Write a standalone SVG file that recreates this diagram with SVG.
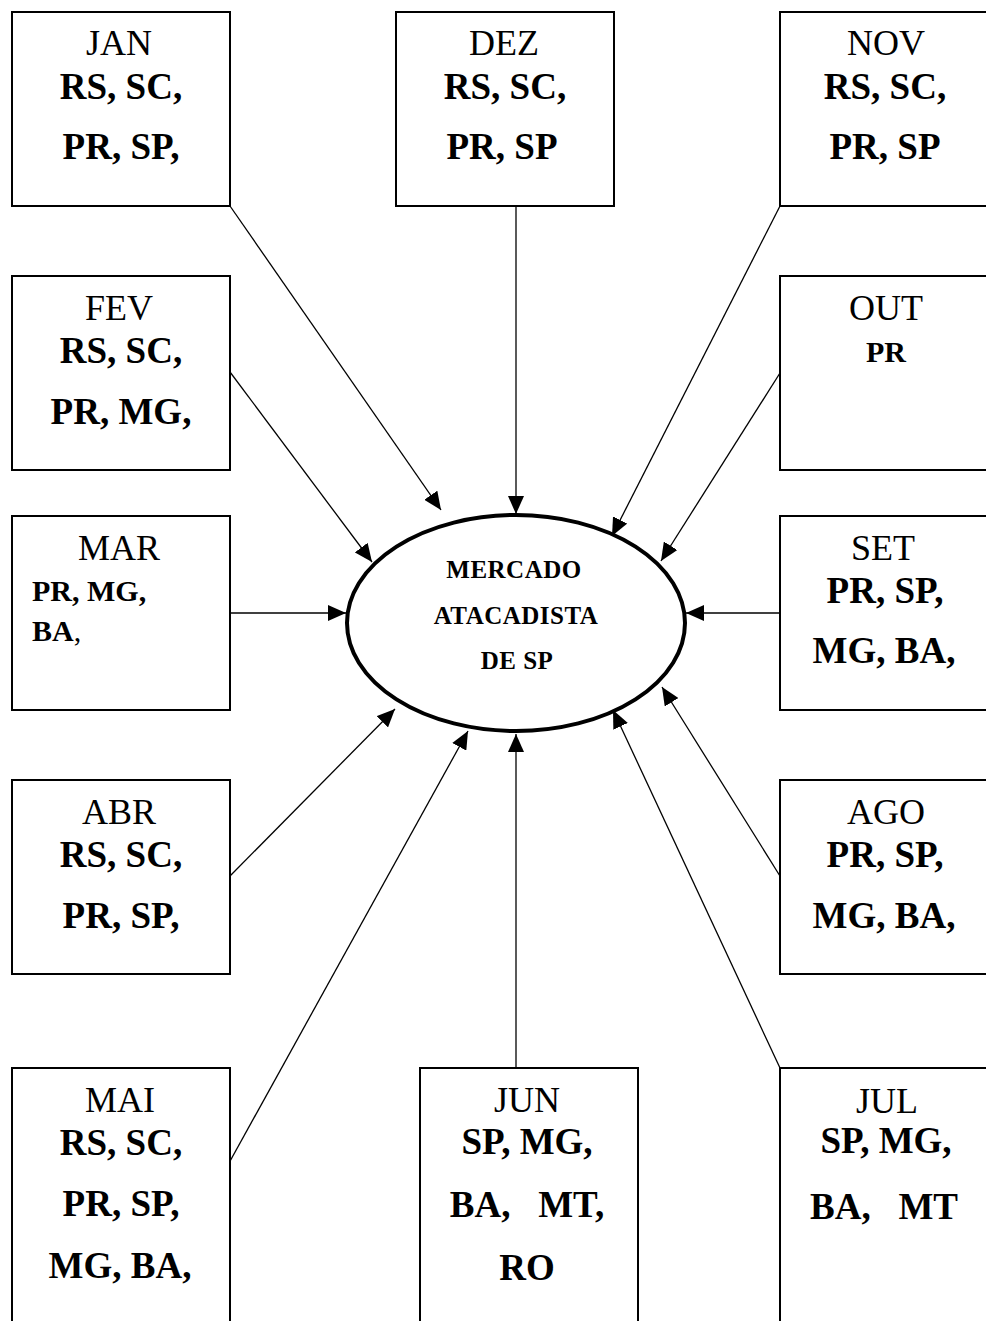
<svg xmlns="http://www.w3.org/2000/svg" width="986" height="1321" viewBox="0 0 986 1321">
  <style>
    .box { fill: #fff; stroke: #000; stroke-width: 2; }
    .hub { fill: #fff; stroke: #000; stroke-width: 4; }
    text { font-family: "Liberation Serif", "Times New Roman", serif; fill: #000; text-anchor: middle; }
    .m { font-size: 36px; }
    .b { font-size: 37px; font-weight: bold; white-space: pre; }
    .s { font-size: 30px; font-weight: bold; text-anchor: start; }
    .c { font-size: 25px; font-weight: bold; letter-spacing: 0.5px; }
    .r { font-weight: normal; }
    #connectors line { stroke: #000; stroke-width: 1.3; marker-end: url(#ah); }
  </style>
  <defs>
    <marker id="ah" viewBox="0 0 18 16" refX="18" refY="8" markerWidth="18" markerHeight="16" markerUnits="userSpaceOnUse" orient="auto">
      <path d="M0,0 L18,8 L0,16 Z" fill="#000"/>
    </marker>
  </defs>
  <rect width="986" height="1321" fill="#fff"/>

  <!-- supply lines into the wholesale market -->
  <g id="connectors">
    <line x1="230" y1="206" x2="441" y2="510"/>
    <line x1="516" y1="206" x2="516" y2="514"/>
    <line x1="780" y1="206" x2="612" y2="536"/>
    <line x1="780" y1="373" x2="661" y2="561"/>
    <line x1="780" y1="613" x2="686" y2="613"/>
    <line x1="780" y1="876" x2="662" y2="687"/>
    <line x1="780" y1="1068" x2="613" y2="710"/>
    <line x1="516" y1="1068" x2="516" y2="734"/>
    <line x1="229" y1="1163" x2="468" y2="731"/>
    <line x1="230" y1="876" x2="395" y2="709"/>
    <line x1="230" y1="613" x2="346" y2="613"/>
    <line x1="230" y1="372" x2="372" y2="562"/>
  </g>

  <g id="mercado">
    <ellipse class="hub" cx="516" cy="623" rx="169" ry="108"/>
    <text class="c" x="514" y="578">MERCADO</text>
    <text class="c" x="516" y="624">ATACADISTA</text>
    <text class="c" x="517" y="669">DE SP</text>
  </g>

  <g id="jan">
    <rect class="box" x="12" y="12" width="218" height="194"/>
    <text class="m" x="119" y="55">JAN</text>
    <text class="b" x="121" y="99">RS, SC,</text>
    <text class="b" x="121" y="159">PR, SP,</text>
  </g>

  <g id="dez">
    <rect class="box" x="396" y="12" width="218" height="194"/>
    <text class="m" x="504" y="55">DEZ</text>
    <text class="b" x="505" y="99">RS, SC,</text>
    <text class="b" x="502" y="159">PR, SP</text>
  </g>

  <g id="nov">
    <rect class="box" x="780" y="12" width="218" height="194"/>
    <text class="m" x="886" y="55">NOV</text>
    <text class="b" x="885" y="99">RS, SC,</text>
    <text class="b" x="885" y="159">PR, SP</text>
  </g>

  <g id="fev">
    <rect class="box" x="12" y="276" width="218" height="194"/>
    <text class="m" x="119" y="320">FEV</text>
    <text class="b" x="121" y="363">RS, SC,</text>
    <text class="b" x="121" y="424">PR, MG,</text>
  </g>

  <g id="out">
    <rect class="box" x="780" y="276" width="218" height="194"/>
    <text class="m" x="886" y="320">OUT</text>
    <text class="b" x="886" y="362" style="font-size:30px">PR</text>
  </g>

  <g id="mar">
    <rect class="box" x="12" y="516" width="218" height="194"/>
    <text class="m" x="119" y="560">MAR</text>
    <text class="s" x="32" y="601">PR, MG,</text>
    <text class="s" x="32" y="641">BA<tspan class="r">,</tspan></text>
  </g>

  <g id="set">
    <rect class="box" x="780" y="516" width="218" height="194"/>
    <text class="m" x="883" y="560">SET</text>
    <text class="b" x="885" y="603">PR, SP,</text>
    <text class="b" x="884" y="663">MG, BA,</text>
  </g>

  <g id="abr">
    <rect class="box" x="12" y="780" width="218" height="194"/>
    <text class="m" x="119" y="824">ABR</text>
    <text class="b" x="121" y="867">RS, SC,</text>
    <text class="b" x="121" y="928">PR, SP,</text>
  </g>

  <g id="ago">
    <rect class="box" x="780" y="780" width="218" height="194"/>
    <text class="m" x="886" y="824">AGO</text>
    <text class="b" x="885" y="867">PR, SP,</text>
    <text class="b" x="884" y="928">MG, BA,</text>
  </g>

  <g id="mai">
    <rect class="box" x="12" y="1068" width="218" height="270"/>
    <text class="m" x="120" y="1112">MAI</text>
    <text class="b" x="121" y="1155">RS, SC,</text>
    <text class="b" x="121" y="1216">PR, SP,</text>
    <text class="b" x="120" y="1278">MG, BA,</text>
  </g>

  <g id="jun">
    <rect class="box" x="420" y="1068" width="218" height="270"/>
    <text class="m" x="527" y="1112">JUN</text>
    <text class="b" x="527" y="1154">SP, MG,</text>
    <text class="b" x="527" y="1217" xml:space="preserve">BA,   MT,</text>
    <text class="b" x="527" y="1280">RO</text>
  </g>

  <g id="jul">
    <rect class="box" x="780" y="1068" width="218" height="270"/>
    <text class="m" x="887" y="1113">JUL</text>
    <text class="b" x="886" y="1153">SP, MG,</text>
    <text class="b" x="884" y="1219" xml:space="preserve">BA,   MT</text>
  </g>
</svg>
